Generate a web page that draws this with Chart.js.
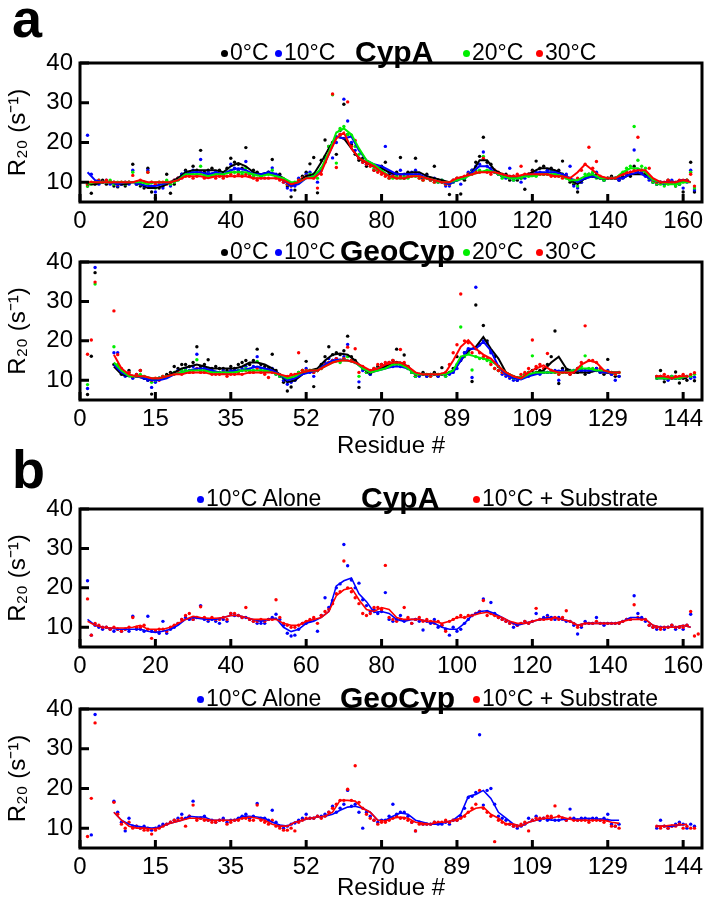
<!DOCTYPE html>
<html>
<head>
<meta charset="utf-8">
<script src="https://cdn.jsdelivr.net/npm/chart.js@4.4.1/dist/chart.umd.min.js"></script>
<style>
  body { margin: 0; background: #fff; font-family: 'Liberation Sans', Arial, sans-serif; }
  #page { position: relative; width: 712px; height: 912px; overflow: hidden; }
  canvas { position: absolute; left: 0; }
  .tag { position: absolute; left: 12px; font-weight: bold; font-size: 54px; line-height: 54px; }
  .leg { position: absolute; font-size: 23px; line-height: 28px; white-space: nowrap; }
  .leg i { display: inline-block; width: 7px; height: 7px; border-radius: 50%; margin-right: 2px; vertical-align: 3px; }
  .ttl { position: absolute; font-size: 30px; font-weight: bold; line-height: 34px; white-space: nowrap; }
</style>
</head>
<body>
<div id="page">
  <div class="tag" style="top:-9px">a</div>
  <div class="tag" style="top:442px">b</div>
  <canvas id="c1" width="712" height="192" style="top:43px"></canvas>
  <canvas id="c2" width="712" height="220" style="top:242px"></canvas>
  <canvas id="c3" width="712" height="191" style="top:489px"></canvas>
  <canvas id="c4" width="712" height="215" style="top:689px"></canvas>
</div>
<script>
// axes
const yTicks = [10, 20, 30, 40];
const xTicks = [0, 20, 40, 60, 80, 100, 120, 140, 160];
const cypaLabels = ['0', '20', '40', '60', '80', '100', '120', '140', '160'];
const geoLabels = ['0', '15', '35', '52', '70', '89', '109', '129', '144'];
const tempNames = ['0°C', '10°C', '20°C', '30°C'];
const subNames = ['10°C Alone', '10°C + Substrate'];

function range(a, b, step) { const r = []; for (let v = a; v <= b; v += step) r.push(v); return r; }

// CypA residues (dots start at residue 2), smoothed lines every 2 residues
const cypaDotStart = 2;
const cypaLineX = range(2, 162, 2);
// GeoCyp on the CypA alignment positions (dots start at position 2)
const geoDotStart = 2;
const geoLineX = range(9, 143, 2).concat([148], range(153, 161, 2));
const N8 = [null, null, null, null, null, null, null, null];

// ---- panel a, CypA ----
const cypaDots0 = [9, 7.2, 9.5, 10, 10.5, 9.5, 10, 9, 8.8, 9.5,
  9, 10, 14.5, 9.5, 9, 8.5, 13.5, 7.5, 6, 8.5,
  9, 12, 7.2, 9.5, 11, 12, 13, 12.5, 14, 13,
  18, 12.5, 13, 13.5, 12, 13, 12, 13.5, 16, 15,
  14.5, 13.5, 18.7, 12, 13, 12.5, 11.5, 12, 12.5, 15.7,
  11.5, 12, 10.5, 9, 6.3, 8, 10, 11.5, 12.5, 14.6,
  16.2, 7.3, 15.5, 20.6, 19, 20, 17, 23, 29.6, 22,
  19.5, 17, 15.5, 16, 14, 14.5, 13, 13.5, 14, 15,
  12, 11.5, 12.5, 16.2, 11, 12.5, 12, 16, 12, 11,
  12, 11, 14, 10.5, 10, 9.5, 6.9, 10.5, 11, 7,
  10.5, 12, 13, 15, 16.5, 21.3, 15, 14.5, 13, 12,
  11.5, 12, 10.5, 11.5, 10.5, 11, 8.2, 12, 13, 15.3,
  13.5, 14, 13, 13.5, 12.5, 13, 15.3, 11.5, 10, 9.5,
  7.5, 10, 11, 12, 11.5, 12, 11, 10.5, 11, 11.5,
  11, 10.5, 11.5, 12, 11.5, 14, 12.5, 13, 12, 11,
  10, 9.5, 10, 9.5, 10.5, 10, 9, 9.5, 7.5, 10.5,
  15, 7.5];
const cypaDots10 = [21.8, 12, 10, 9.5, 10, 10.5, 9.5, 10, 9, 9.5,
  10, 9.5, 13, 9.5, 10, 9, 13, 9, 7.5, 9.5,
  8.5, 10, 9, 10.5, 11, 12, 12.5, 12, 13, 12.5,
  15.7, 12, 12.5, 12, 12.5, 12, 11.5, 12.5, 14.5, 13.5,
  13, 12.5, 15.2, 12, 11.5, 12, 11.5, 12, 12.5, 13.6,
  12, 11.5, 10, 8.5, 8, 9, 11, 11, 12, 12.5,
  12, 10, 13, 16, 18, 16.1, 20, 22, 30.9, 25.4,
  20, 18, 16, 15, 14.5, 14.5, 14, 13, 13.5, 19,
  12.5, 12, 12, 13, 12, 11.5, 12.5, 13, 12, 11,
  11.5, 10.5, 11, 10, 10.5, 9, 9, 10, 10.5, 9.5,
  11, 12.5, 13, 14, 14.5, 17.6, 14, 13.5, 12.5, 12,
  11.5, 11, 13.5, 10.5, 11, 10, 11, 12, 12, 12.5,
  12.5, 12, 13, 13, 12.5, 12.5, 12, 12, 14, 9,
  8.5, 10, 11, 11.5, 12, 12.5, 11, 10.5, 11, 11,
  11, 10.5, 11, 12, 12.5, 18.1, 13, 12.5, 11.5, 10.5,
  10, 9.5, 10, 9.5, 10, 10.5, 9.5, 9.5, 8.5, 10,
  13, 8];
const cypaDots20 = [9, 9.5, 10, 10.5, 10, 10, 10.5, 9.5, 10, 10,
  9.5, 10, 12.5, 10, 9.5, 10, 12.5, 10, 8.5, 10,
  9.5, 10.5, 9.5, 10, 10.5, 11.5, 12, 12, 12.5, 12,
  14, 11.5, 12, 11.5, 12, 12, 11.5, 12.5, 13, 12.5,
  12.5, 12, 13.5, 12, 11.5, 11, 11.5, 12, 12, 13,
  11.5, 11, 10.5, 9.5, 9, 10, 10.5, 11, 11.5, 12,
  12, 11, 13.5, 16.5, 19, 32, 14.8, 23.5, 24, 22,
  21.8, 19, 17, 15.5, 15, 14.5, 13.5, 13, 12.5, 12,
  11, 11, 11.5, 11, 11.5, 11, 12, 11.5, 11, 10.5,
  11, 10.5, 10, 10, 10.5, 9.5, 9.5, 10, 10.5, 11,
  11, 12, 12.5, 13, 13, 16.5, 13, 13, 12.5, 12,
  11, 11.5, 11, 10.5, 11, 11, 11.5, 11.5, 12, 11.5,
  12, 12, 12, 12.5, 12, 11.5, 12, 11, 10.5, 10,
  9, 10.5, 12, 12, 12.5, 11, 11, 10.5, 11, 11,
  11, 11.5, 12.5, 13.5, 14, 24, 15.5, 14, 13.5, 11,
  10, 9.5, 9.5, 9, 9.5, 10, 9, 9.5, 10, 10.5,
  12.5, 8.5];
const cypaDots30 = [9.5, 10, 10, 10.5, 10, 10.5, 10, 10, 9.5, 10,
  10, 10, 11.7, 10, 10.5, 10, 12.5, 10, 9.5, 10,
  10, 9.5, 10, 10.5, 11, 11, 11.5, 11.5, 11, 11.5,
  12.5, 11, 11.5, 11.5, 11, 11.5, 11, 11.5, 12, 11.5,
  12, 11.5, 12, 11.5, 11, 10.5, 11, 11, 11, 12,
  11, 10.5, 10, 9.5, 9, 9.5, 10.5, 11, 11.5, 11.5,
  11, 8.5, 12, 15, 18, 32.2, 13.7, 22, 21, 30.2,
  19, 20.5, 16, 15, 14.5, 14, 13, 12.5, 12, 11.5,
  11, 11.5, 11, 11.5, 11, 11.5, 11.5, 12, 11, 10.5,
  11, 10.5, 10, 10.5, 10, 9.5, 9.5, 10.5, 11, 11,
  11.5, 12, 12, 12.5, 12.5, 16, 12.5, 12, 13, 12.5,
  12, 11.5, 11.5, 11.5, 12, 14, 12, 12, 12.5, 12,
  12, 12, 12, 11.5, 11.5, 11.5, 11, 11.5, 11, 10.5,
  11, 13, 14.5, 18.8, 13.5, 15.2, 11.5, 11, 11, 11,
  11, 11, 12, 12.5, 12.5, 13, 21.3, 13, 12.5, 13.5,
  10.5, 10, 10, 10, 10.5, 10, 10, 10.5, 10.5, 10.5,
  12, 9];
const cypaLine0 = [9.5, 9.5, 10, 10, 9.5, 9.5, 10, 9.5, 8.5, 8.5,
  9, 10, 11, 12.5, 13, 13, 13, 13, 12.5, 14,
  14.8, 14, 12.5, 12, 12.5, 12, 11, 9.5, 10, 11.5,
  12, 15, 18.5, 21.5, 21, 18.5, 16, 15, 14, 13.5,
  12.5, 12, 12, 12.5, 12.5, 11.5, 11, 10.5, 10, 10.5,
  11, 12.5, 15.5, 15.5, 13, 12, 11.5, 11, 11.5, 12.5,
  13.5, 13.5, 13, 12, 10.5, 9.5, 11, 11.5, 11, 11,
  11, 11, 12, 12, 12, 10.5, 10, 10, 10, 10.5,
  10];
const cypaLine10 = [12.5, 10.5, 10, 10, 9.5, 10, 10, 9.5, 9, 9,
  9.5, 10, 10.5, 12, 12.5, 12.5, 12, 12.5, 12, 13,
  13.5, 13, 12, 12, 12.5, 12, 10.5, 9, 9.5, 11,
  11.5, 13, 17, 21.5, 21, 21.5, 18, 15.5, 14.5, 14,
  13, 12, 12, 12, 12, 11, 10.5, 10, 9.5, 10.5,
  11, 12.5, 14, 14, 12.5, 11.5, 11, 11, 11.5, 12,
  12.5, 12.5, 12.5, 12, 11, 10, 11, 11.5, 11, 11,
  11, 11, 12, 12.5, 11.5, 10.5, 10, 10, 10, 10.5,
  10];
const cypaLine20 = [9.5, 10, 10, 10, 10, 10, 10, 10, 9.5, 10,
  10, 10, 10.5, 12, 12, 12, 11.5, 12, 12, 12.5,
  12.5, 12.5, 12, 11.5, 12, 11.5, 11, 10, 10, 11,
  11.5, 13.5, 17.5, 22.5, 23.5, 22, 18.5, 15.5, 14.5, 13,
  11.5, 11, 11, 11.5, 11.5, 11, 10.5, 10, 10, 10.5,
  11, 12, 12.5, 13, 12.5, 11.5, 11, 11, 11.5, 11.5,
  12, 12, 12, 11.5, 10.5, 10.5, 11.5, 12, 11, 11,
  11, 12.5, 13.5, 13.5, 12.5, 10.5, 10, 9.5, 9.5, 10,
  10];
const cypaLine30 = [10, 10, 10, 10, 10, 10, 10, 10.5, 10, 10,
  10, 10, 10.5, 11.5, 11.5, 11.5, 11, 11.5, 11.5, 11.5,
  11.5, 11.5, 11, 11, 11, 11, 10.5, 9.5, 10, 11,
  11, 12.5, 17, 21, 22.5, 18.5, 16, 15, 14, 12.5,
  11.5, 11, 11, 11.5, 11.5, 11, 10.5, 10, 10, 11,
  11.5, 12, 12.5, 12.5, 12.5, 12, 11.5, 11.5, 12, 12,
  12, 12, 11.5, 11.5, 11, 12.5, 14.5, 13, 11.5, 11,
  11, 12, 12.5, 13, 13, 11, 10, 10, 10, 10.5,
  10];

// ---- panel a, GeoCyp ----
const geoDots0 = [6.4, 16.1, 37.3, null, null, null, null, 14, 13.5, 11.5,
  11.5, 12.5, 11, 11, 12.5, 10.5, 10, 6.5, 10, 10.5,
  11, 11.5, 12, 13.5, 13, 14, 14, 13.5, 14.5, 18.5,
  13.5, 14, 15.2, 13, 13.5, 13, 13, 12.5, 13.5, 13,
  14, 14.5, 15, 14, 15, 17.9, 14, 13.5, 13, 16.6,
  12.5, 11, 9.5, 7.3, 8.3, 10, 12, 12.5, 14.8, 12.5,
  8.4, 12.5, 14, 16, 18.5, 16.5, 17, 16.5, 17.5, 21.2,
  16, 15, 8.2, 13, 12, 11.5, 13, 13.5, 14, 14,
  14.5, 15, 17.9, 14, 16.4, 13.5, 12, 11, 11.5, 12,
  11, 11.5, 12, 11, 13.2, 11.5, 12, 13, 16, 15.5,
  17, 17.5, 9.7, 29.1, 19, 23.9, 20, 17.5, 16, 13.5,
  12.5, 11.5, 11, 10.5, 10, 10.5, 11.5, 12, 12.5, 13,
  12.5, 12, 14, 16, 22.5, 9.2, 13, 12.5, 11.5, 12,
  12, 12.5, 11.5, 12, 12.5, 13, 12, 11.5, 15.3, 11.5,
  11, 11].concat(N8, [
  null, 11, 12.5, 9.6, 10.5, 11, 12.1, 9.3, 10.5, 10,
  11, 9.9, null]);
const geoDots10 = [7.9, null, 38.6, null, null, null, null, 17, 17, 12,
  11, 12, 10.5, 11.5, 11, 10.5, 10, 8.2, 9.5, 10.5,
  10.5, 11, 11.5, 12, 12.5, 12.5, 13, 12.5, 13.5, 16.6,
  12.5, 13, 13, 12.5, 12, 12, 12.5, 12, 12.5, 12,
  12.5, 13, 13.5, 12.5, 13.5, 16, 13, 12.5, 12.5, 13,
  11.5, 11, 10, 9, 9.5, 10, 11.5, 12, 13, 12,
  11, 12.5, 13.5, 14.5, 15.5, 15, 15.5, 15, 16, 19.1,
  15, 14.5, 9.6, 12.5, 12, 11.5, 12.5, 13, 13.5, 13.5,
  14, 13.5, 14, 13.5, 14, 13, 12, 11, 11, 11.5,
  11, 11.5, 11.5, 11, 11.5, 11, 11.5, 12, 13, 15,
  17, 18, 10.7, 33.6, 19, 20, 19.5, 17, 14.5, 12.5,
  11.5, 11, 10.5, 10, 10, 10.5, 11, 11, 11.5, 12,
  11.5, 12, 12, 12, 12.5, 10, 12.5, 12, 12.5, 12.5,
  13, 12.5, 12.5, 12, 12.5, 13, 12, 12, 12.5, 11.5,
  10, 11].concat(N8, [
  null, 10.5, 11, 10.5, 10, 11, 10.5, 10.5, 11, 11,
  10.5, 10.8, null]);
const geoDots20 = [8.9, null, 34.4, null, null, null, null, 18.5, 14, 12,
  11.5, 12, 11, 11, 11.5, 11, 10.5, 9.5, 10, 10.5,
  11, 11, 11.5, 12, 12, 12.5, 12.5, 12, 12.5, 15.2,
  12.5, 12.5, 13, 12, 12, 12, 12, 11.5, 12, 12,
  12.5, 12.5, 13, 12.5, 12.5, 14.8, 12.5, 12, 12.5, 12.5,
  11.5, 11, 10.5, 10, 10.5, 11, 12, 12.5, 12.5, 12.5,
  12, 12.5, 13, 14, 14.5, 15, 15, 14.5, 15.5, 16,
  15, 14.5, 11, 13, 12, 12, 12.5, 13, 13, 13.5,
  14, 14, 14.5, 14, 14, 13, 12, 11, 11.5, 11.5,
  11.5, 11, 11.5, 11.5, 11.5, 11, 12, 12.5, 14, 23.5,
  16, 17, 12.6, 16, 15.5, 15.5, 15, 14.5, 13, 12.5,
  12, 11.5, 11, 10.5, 10.5, 11, 11.5, 12, 16.2, 12,
  12, 12, 12, 12.5, 12, 11.5, 12, 12, 12.5, 12.5,
  13, 13.5, 16.2, 13, 13, 12.5, 12.5, 12, 12, 12,
  11.5, 12].concat(N8, [
  null, 10.5, 11, 10.5, 10.5, 11, 10.5, 10.5, 11, 11,
  11, 11.5, null]);
const geoDots30 = [16.6, 20.2, 34.9, null, null, null, null, 27.6, 16.5, 13,
  11.5, 12, 11, 11.5, 12.5, 11, 10.5, 10, 10.5, 10,
  11, 11, 11.5, 11.5, 12, 11.5, 12, 12, 12, 13,
  12, 12, 12.5, 11.5, 11.5, 11.5, 12, 11, 11.5, 11.5,
  12, 11.5, 12.5, 12, 12, 13, 12, 11.5, 10.7, 12,
  12, 11.5, 11, 11, 11.5, 11.5, 17, 12.5, 12.5, 12.5,
  12, 12.5, 13, 14, 14.5, 15, 15.5, 15, 15.5, 18.4,
  15, 18, 12, 13.5, 12.5, 12.5, 13, 14, 14, 14.5,
  14.5, 15, 14.5, 17.8, 14.5, 13.5, 12.5, 11.5, 11.5, 11.5,
  11.5, 11, 11.5, 11.5, 11.5, 12, 14, 17, 19, 31.9,
  20, 19.5, 17, 18, 17, 16, 15.5, 14, 13, 12.5,
  12, 11.5, 11, 11, 10.5, 11.5, 12, 13, 20.2, 13.5,
  14, 13, 16.8, 12.5, 12, 11.5, 12, 12, 11.5, 12,
  13, 14.5, 23.8, 15, 15, 14.5, 13, 12, 12, 12,
  11.5, 12].concat(N8, [
  null, 11, 11, 11.5, 11, 10.5, 11, 11, 11.5, 11,
  11.5, 11.9, null]);
const geoLine0 = [13.5, 11.5, 11, 11, 10.5, 10, 10.5, 11, 12, 13,
  13.5, 14, 13.5, 13, 13, 13, 13, 13.5, 14.5, 14.5,
  14, 13, 11.5, 9.5, 10, 11.5, 12.5, 13, 15, 16.5,
  16.8, 16.5, 15, 13, 11.7, 13, 13.5, 14.5, 14.5, 13.5,
  11.5, 11.5, 11.5, 11.5, 11.5, 12.5, 15, 17.5, 18.5, 21,
  18, 15.5, 12, 11, 10.5, 11.5, 12, 12.5, 14.5, 16,
  13, 12, 12, 12, 12.5, 12, 12, 12,
  null,
  10.5, 10.5, 10.5, 10.5, 10.5];
const geoLine10 = [14, 12, 11, 11, 10.5, 10, 10, 10.5, 11.5, 12,
  12.5, 13, 13, 12.5, 12, 12, 12.5, 12.5, 13, 13.5,
  13, 12.5, 11.5, 10, 10.5, 11.5, 12, 12.5, 14, 15,
  15.3, 15, 14.5, 13, 12, 12.5, 13, 13.5, 13.5, 13,
  11.5, 11.5, 11.5, 11.5, 11.5, 12, 15, 18, 18, 19.8,
  17.5, 13.5, 11.5, 10.5, 10.2, 11, 11.5, 12, 12, 12.5,
  12, 12.5, 12.5, 12.5, 12.5, 12, 12, 12,
  null,
  10.5, 10.5, 10.5, 10.5, 11];
const geoLine20 = [14.5, 12.5, 11, 11, 11, 10.5, 10.5, 11, 11.5, 12,
  12.5, 12.5, 12.5, 12, 12, 12, 12, 12.5, 12.5, 12.5,
  12.5, 12, 11.5, 10.5, 11, 12, 12.5, 12.5, 13.5, 14.5,
  15, 15, 14.5, 13, 12, 12.5, 13, 14, 14, 13,
  11.5, 11.5, 11.5, 11.5, 11.5, 12.5, 16, 16.5, 16, 15.5,
  15, 13.5, 12, 11, 10.5, 11.5, 12, 12, 12, 12,
  12, 12.5, 13, 13, 12.5, 12.5, 12, 12,
  null,
  10.5, 10.5, 10.5, 10.5, 11];
const geoLine30 = [16.5, 13, 11.5, 11, 11, 10.5, 10.5, 11, 11.5, 11.5,
  12, 12, 12, 11.5, 11.5, 11.5, 11.5, 11.5, 12, 12,
  12, 12, 11.5, 11, 11.5, 12, 12.5, 12.5, 13.5, 14.5,
  15, 15, 14.5, 13.5, 12.5, 13, 14, 14.5, 14.5, 13.5,
  12, 11.5, 11.5, 11.5, 12, 15, 18.5, 20.2, 18, 16.5,
  15.5, 13.5, 12, 11, 10.5, 12, 13, 13.8, 12.5, 12,
  12, 12, 14, 15, 14.5, 12.5, 12, 12,
  null,
  11, 11, 10.5, 11, 11];

// ---- panel b, CypA ----
const cypaAloneDots = [21.8, 8, 10.5, 10, 9.5, 10, 9.5, 9, 9.5, 9,
  9.5, 9, 12.8, 9.5, 9.5, 9, 12.8, 9, 9, 8.5,
  11.5, 8.5, 9.5, 10, 11, 12, 12.5, 12, 12, 12.5,
  15.5, 12, 11.5, 12, 11.5, 11, 12, 11.5, 13.5, 13,
  13, 12.5, 12.5, 12, 11.5, 11, 11, 11, 12, 12.5,
  13.3, 12, 10.5, 8.5, 7.8, 8, 9.5, 11, 11, 11.5,
  12, 9, 13, 17.5, 15, 16.8, 20, 21, 31, 25.6,
  22, 20, 21.2, 17, 15.5, 14, 14.5, 13.5, 14, 18.8,
  12, 11.5, 12, 13, 11.5, 12, 11, 12, 11.5, 9.3,
  11.5, 11, 12, 10, 10.5, 9.5, 8, 10, 9, 9.5,
  11, 12, 13, 13.5, 14, 17.2, 14, 16.3, 13.5, 12.5,
  12, 11.5, 11, 10, 10.5, 11, 11.5, 11, 11.5, 13.5,
  12, 12.5, 13, 12.5, 12, 12.5, 12, 11.5, 11.5, 10.5,
  8.3, 10, 11.5, 11, 11, 12.5, 11, 10.5, 11, 11,
  11, 11, 11.5, 12, 12, 18, 13.5, 12.5, 11.5, 10.5,
  10, 9.5, 10, 9.5, 10, 10.5, 9.5, 10, 9.5, 10.5,
  13.3, null, null];
const cypaSubDots = [17.2, 8, 11, 10.5, 10, 10, 9.5, 10, 9.5, 9,
  9.5, 10, 12.5, 10, 10, 10.5, 9.5, 7.2, 9, 9.5,
  9.5, 9, 10, 10.5, 11, 12, 13, 13.5, 12, 12.5,
  15.2, 12.5, 12, 12.5, 12, 12, 12.5, 12, 13.5, 13.5,
  13, 12.5, 15, 12, 11.5, 11.5, 12, 11.5, 12, 12,
  17, 12.5, 11, 10.5, 10, 10, 10.5, 11, 11.5, 12,
  12.5, 11, 13, 14, 14.5, 16, 18.5, 19, 26.8, 20,
  19, 17.5, 16, 13.5, 13, 13.5, 15, 15, 14.5, 25.7,
  12.5, 12, 11.5, 12, 15, 12.5, 11, 12, 12.5, 11.5,
  12, 11.5, 11, 11.5, 10.5, 9, 11.5, 12, 12.5, 13,
  12.5, 13, 13, 13.5, 14, 16.8, 13, 13.5, 13, 12.5,
  12, 11.5, 11, 11, 10.5, 11, 11.5, 11, 11.5, 14.8,
  12, 12, 12.5, 12, 12.5, 12, 12.5, 14.2, 11.5, 11,
  10, 10.5, 11, 11, 11, 11.5, 11, 11, 11, 11,
  11, 11, 11.5, 12, 12, 15.7, 12.5, 12, 12, 10.5,
  10, 10, 9.5, 10, 10, 10.5, 10, 10, 10, 10.5,
  14, 7.8, 8.3];
const cypaAloneLine = [12, 10.5, 10, 9.8, 9.5, 9.5, 9.5, 9.5, 9, 8.7,
  9, 9.5, 10.5, 12, 12.5, 12.2, 12, 12, 12.5, 13,
  13, 12.5, 12, 11.5, 12, 12.3, 10, 8.9, 9.5, 11,
  11.5, 12.5, 14, 20.5, 21.8, 22.5, 18.5, 16.5, 13.8, 14,
  13.5, 12, 11.5, 12, 12, 11.5, 11, 10, 9.5, 9.5,
  11, 13, 14, 14.2, 13.5, 12.5, 11.5, 10.5, 11, 11.5,
  12, 12.5, 12.5, 12, 11.5, 10.5, 11, 11, 11, 11,
  11, 11.5, 12.5, 12.5, 12, 10.5, 10, 10, 10, 10.5,
  10];
const cypaSubLine = [11.5, 10.5, 10, 9.8, 9.8, 9.8, 10, 10.5, 9.5, 9.5,
  9.5, 10, 11, 12, 12.8, 12.5, 12.3, 12.3, 12.5, 13,
  13, 12.5, 12, 12, 12, 12, 11, 10.5, 10.5, 11.5,
  12, 12.5, 14, 18, 19.5, 20, 17, 14.5, 14, 15,
  14.5, 12.5, 12, 12, 12, 11.5, 11.5, 11, 11.5, 12.5,
  12.5, 13, 13.5, 13.8, 13, 12.5, 11.5, 11, 11, 11.5,
  12, 12, 12.5, 12, 11.5, 10.5, 11, 11, 11, 11,
  11, 11.5, 12, 12, 12, 10.5, 10, 10, 10, 10.5,
  10];

// ---- panel b, GeoCyp ----
const geoAloneDots = [null, 8.3, 38.6, null, null, null, null, 16.8, 14, 11.5,
  9.3, 12.5, 10.5, 10.5, 10, 10.5, 10, 9.5, 10, 10.5,
  11, 11, 11.5, 12, 12.5, 13.5, 12.5, 13, 16.8, 12.5,
  12.5, 13, 12, 12, 11.5, 12, 12.5, 11.5, 12, 12,
  12.5, 13, 13.5, 12.5, 13, 16.2, 12.5, 12.5, 12, 14.5,
  11.5, 10.5, 10, 10.5, 11, 11.3, 12, 12.5, 13.5, 12.5,
  12.5, 13, 13, 13.5, 14, 15.5, 14, 15, 16, 19.5,
  15.5, 16, 14, 10, 14, 13, 12, 11.5, 12, 12,
  13, 16, 13.5, 14, 14, 13, 11.5, 9.3, 11.5, 11,
  11, 11, 11.5, 11, 11, 11.5, 11, 12, 12, 13,
  15, 17.7, 18, 19, 33.5, 15.8, 19.5, 20, 16, 13,
  12.5, 12, 11, 10.5, 10, 10.5, 11, 12.5, 12, 13,
  12, 12.5, 12, 12.5, 12, 12, 12.5, 12, 14.8, 12.5,
  12, 12.5, 12.5, 12, 12.5, 12.5, 12, 12.5, 13.5, 11,
  10.5, 11].concat(N8, [
  null, 10, 12, 10.5, 10, 10.5, 11, 11.5, 11, 10,
  11, 10.5, null]);
const geoSubDots = [7.9, 17.5, 36.5, null, null, null, null, 16.5, 13.5, 11,
  10, 11.5, 10, 10.5, 10, 9.5, 9.5, 8.5, 9.5, 10,
  10.5, 11, 11.5, 12, 12, 12.5, 10.5, 13, 15.8, 12,
  12.5, 12, 12, 11.5, 11.5, 12, 12, 11, 11.5, 12,
  12, 12.5, 12.5, 12, 12, 15.8, 12, 11.5, 11, 12,
  10.5, 10, 9.5, 9.5, 10, 9.3, 11.5, 12, 12.5, 12.5,
  12.5, 13, 12.5, 13, 14, 15, 16, 17, 17, 19.8,
  17, 25.7, 16.5, 15, 13.5, 12.5, 12, 11, 11.5, 11.5,
  12, 12.5, 13, 12.5, 12.5, 12, 11.5, 9.3, 11, 11,
  11, 11, 11.5, 11.5, 11.5, 12, 11.5, 12, 12, 12.5,
  13, 14, 15, 16, 19.5, 15, 14, 13, 6.6, 12,
  11.5, 11, 11, 10.5, 10.5, 11, 11.5, 9.3, 12, 12.5,
  12.5, 12.5, 13, 13, 15.6, 13, 12.5, 12, 12.5, 12,
  12, 12, 12, 11.5, 12, 12, 12, 11.5, 12, 10.5,
  10.5, 10].concat(N8, [
  null, 10.5, 10, 10.5, 10, 10.5, 10.5, 11, 10, 10.5,
  10, 10, null]);
const geoAloneLine = [14, 12, 11, 10.5, 10.2, 10, 10.2, 11, 11.5, 12,
  13, 12.8, 12.8, 12, 12, 12, 12, 13, 13, 12.8,
  12.5, 11.5, 10.8, 10.5, 11.5, 12, 12.5, 12.8, 13, 13.5,
  14.5, 15.3, 15.5, 15, 14, 12, 12, 13, 13.8, 13.5,
  12, 11.5, 11, 11, 11.5, 12, 13.5, 18, 18.5, 19.5,
  17.5, 14, 12.5, 11, 10.5, 11.5, 12, 12.5, 12, 12,
  12.3, 12.3, 12.3, 12.5, 12.3, 12.3, 12, 12,
  null,
  10.5, 10.5, 10.5, 10.8, 11];
const geoSubLine = [14, 12, 10.5, 10, 10, 9.8, 10, 11, 11.5, 12,
  12.5, 12.5, 12.3, 12, 12, 12, 12, 12.5, 12.8, 12.5,
  12, 11, 10.5, 10.5, 11.5, 12, 12.5, 12.8, 13, 14,
  17, 17, 16.8, 15, 14, 12, 11.8, 12.5, 12.8, 12.5,
  11.5, 11.2, 11, 11.5, 11.5, 12, 12.5, 14, 15, 15.3,
  13.5, 12.5, 11, 11, 10.5, 11.5, 12, 12.5, 12.5, 13,
  12.5, 12, 12, 12, 12, 12, 11.5, 11.2,
  null,
  10.5, 10.5, 10.8, 10.8, 11];

const BLACK = '#000000', BLUE = '#0000ff', GREEN = '#00ee00', RED = '#ff0000';
const FONT = "'Liberation Sans', Arial, sans-serif";

function dotPts(start, vals) { return vals.map((v, i) => ({x: start + i, y: v})); }
function linePts(xs, vals) { return vals.map((v, i) => ({x: xs[i], y: v})); }

function dots(data, color) {
  return { data, showLine: false, pointRadius: 1.7, pointHoverRadius: 1.7, pointBorderWidth: 0,
           backgroundColor: color, borderColor: color };
}
function line(data, color, w) {
  return { data, showLine: true, pointRadius: 0, borderWidth: w, borderColor: color,
           backgroundColor: color, spanGaps: false, tension: 0 };
}

// box with inward ticks on left and bottom
const frame = {
  id: 'frame',
  afterDraw(chart) {
    const {ctx, chartArea: a, scales: {x, y}} = chart;
    ctx.save();
    ctx.strokeStyle = '#000';
    ctx.lineWidth = 3;
    ctx.beginPath();
    x.ticks.forEach(t => {
      const px = x.getPixelForValue(t.value);
      ctx.moveTo(px, a.bottom); ctx.lineTo(px, a.bottom - 8);
    });
    y.ticks.forEach(t => {
      const py = y.getPixelForValue(t.value);
      ctx.moveTo(a.left, py); ctx.lineTo(a.left + 9, py);
    });
    ctx.stroke();
    ctx.strokeRect(a.left, a.top, a.width, a.height);
    ctx.restore();
  }
};

function panel(id, datasets, xLabels, xTitle, xHeight) {
  new Chart(document.getElementById(id), {
    type: 'scatter',
    data: { datasets },
    options: {
      responsive: false,
      animation: false,
      events: [],
      layout: { padding: { top: 20, right: 10, left: 0, bottom: 0 } },
      plugins: { legend: { display: false }, tooltip: { enabled: false } },
      scales: {
        x: {
          type: 'linear', min: 0, max: 165,
          grid: { display: false, drawTicks: false },
          border: { display: false },
          afterBuildTicks: s => { s.ticks = xTicks.map(v => ({value: v})); },
          afterFit: s => { s.height = xHeight; s.paddingLeft = 0; s.paddingRight = 0; },
          ticks: { color: '#000', font: { size: 24, family: FONT }, padding: 5,
                   maxRotation: 0, autoSkip: false, callback: (v, i) => xLabels[i] },
          title: { display: !!xTitle, text: xTitle, color: '#000',
                   font: { size: 24, family: FONT }, padding: { top: 0, bottom: 1 } }
        },
        y: {
          type: 'linear', min: 5, max: 40,
          grid: { display: false, drawTicks: false },
          border: { display: false },
          afterBuildTicks: s => { s.ticks = yTicks.map(v => ({value: v})); },
          afterFit: s => { s.width = 80; s.paddingTop = 0; s.paddingBottom = 0; },
          ticks: { color: '#000', font: { size: 24, family: FONT }, padding: 7 },
          title: { display: true, text: 'R₂₀ (s⁻¹)', color: '#000',
                   font: { size: 24, family: FONT }, padding: { top: 4, bottom: 0 } }
        }
      }
    },
    plugins: [frame]
  });
}

// panel a, CypA
panel('c1', [
  line(linePts(cypaLineX, cypaLine30), RED, 2),
  line(linePts(cypaLineX, cypaLine20), GREEN, 2),
  line(linePts(cypaLineX, cypaLine10), BLUE, 2),
  line(linePts(cypaLineX, cypaLine0), BLACK, 2),
  dots(dotPts(cypaDotStart, cypaDots30), RED),
  dots(dotPts(cypaDotStart, cypaDots20), GREEN),
  dots(dotPts(cypaDotStart, cypaDots10), BLUE),
  dots(dotPts(cypaDotStart, cypaDots0), BLACK)
], cypaLabels, '', 33);

// panel a, GeoCyp
panel('c2', [
  line(linePts(geoLineX, geoLine30), RED, 2),
  line(linePts(geoLineX, geoLine20), GREEN, 2),
  line(linePts(geoLineX, geoLine10), BLUE, 2),
  line(linePts(geoLineX, geoLine0), BLACK, 2),
  dots(dotPts(geoDotStart, geoDots30), RED),
  dots(dotPts(geoDotStart, geoDots20), GREEN),
  dots(dotPts(geoDotStart, geoDots10), BLUE),
  dots(dotPts(geoDotStart, geoDots0), BLACK)
], geoLabels, 'Residue #', 62);

// panel b, CypA
panel('c3', [
  line(linePts(cypaLineX, cypaSubLine), RED, 1.6),
  line(linePts(cypaLineX, cypaAloneLine), BLUE, 1.6),
  dots(dotPts(cypaDotStart, cypaSubDots), RED),
  dots(dotPts(cypaDotStart, cypaAloneDots), BLUE)
], cypaLabels, '', 33);

// panel b, GeoCyp
panel('c4', [
  line(linePts(geoLineX, geoSubLine), RED, 1.6),
  line(linePts(geoLineX, geoAloneLine), BLUE, 1.6),
  dots(dotPts(geoDotStart, geoSubDots), RED),
  dots(dotPts(geoDotStart, geoAloneDots), BLUE)
], geoLabels, 'Residue #', 56);

// legend rows with the protein name in the middle
const page = document.getElementById('page');
function legItem(x, yc, color, text) {
  const d = document.createElement('div');
  d.className = 'leg';
  d.style.left = x + 'px';
  d.style.top = (yc - 14) + 'px';
  d.innerHTML = '<i style="background:' + color + '"></i>' + text;
  page.appendChild(d);
}
function title(x, yc, text) {
  const d = document.createElement('div');
  d.className = 'ttl';
  d.style.left = x + 'px';
  d.style.top = (yc - 17) + 'px';
  d.textContent = text;
  page.appendChild(d);
}
const tempColors = [BLACK, BLUE, GREEN, RED];
const tempLegX = [221, 275, 463, 536];
[[52, 355, 'CypA'], [251, 340, 'GeoCyp']].forEach(([yc, tx, name]) => {
  tempNames.forEach((n, i) => legItem(tempLegX[i], yc, tempColors[i], n));
  title(tx, yc, name);
});
[[498, 361, 'CypA'], [698, 340, 'GeoCyp']].forEach(([yc, tx, name]) => {
  legItem(197, yc, BLUE, subNames[0]);
  legItem(473, yc, RED, subNames[1]);
  title(tx, yc, name);
});
</script>
</body>
</html>
